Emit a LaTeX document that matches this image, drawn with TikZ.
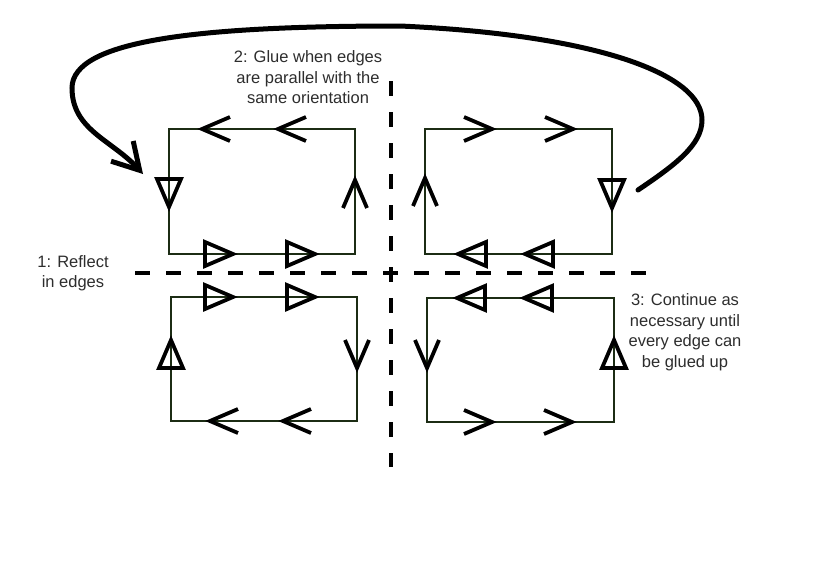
\documentclass[tikz,border=0pt]{standalone}
\usepackage{fontspec}
\setmainfont{Liberation Sans}
\usetikzlibrary{arrows.meta}
\definecolor{edgegreen}{RGB}{28,44,20}
\definecolor{txtgray}{RGB}{45,45,45}
\tikzset{
  sq/.style={draw=edgegreen, line width=2.8pt, line join=miter},
  markline/.style={draw=black, line width=3.8pt, line join=miter},
  sepline/.style={draw=black, line width=3.8pt, dash pattern=on 15pt off 16pt},
  bigarrow/.style={draw=black, line width=5pt, line cap=round,
    -{Straight Barb[length=26pt,width=30pt,line width=5pt]}},
  note/.style={text=txtgray, align=center, inner sep=0pt,
    font=\fontsize{16.5}{20.5}\selectfont},
  chev/.pic={\draw[markline] (-28,12) -- (0,0) -- (-28,-12);},
  tri/.pic={\draw[markline] (-28,12) -- (0,0) -- (-28,-12) -- cycle;}
}
\begin{document}
\begin{tikzpicture}[x=1pt,y=-1pt]
\useasboundingbox (0,0) rectangle (830,581);

% separators
\coordinate (hl) at (135,273);
\coordinate (hr) at (647,273);
\coordinate (vt) at (391,81);
\coordinate (vb) at (391,467);
\draw[sepline] (hl) -- (hr);
\draw[sepline] (vt) -- (vb);

% squares
\path[sq] (169,129) rectangle (355,254);
\path[sq] (425,129) rectangle (612,254);
\path[sq] (171,297) rectangle (357,421);
\path[sq] (427,298) rectangle (614,422);

% top-left square markers
\pic[rotate=180] at (202,129) {chev};
\pic[rotate=180] at (278,129) {chev};
\pic[rotate=-90] at (169,207) {tri};
\pic at (233,254) {tri};
\pic at (315,254) {tri};
\pic[rotate=90] at (355,180) {chev};

% top-right square markers
\pic at (492,129) {chev};
\pic at (573,129) {chev};
\pic[rotate=-90] at (612,208) {tri};
\pic[rotate=180] at (458,254) {tri};
\pic[rotate=180] at (525,254) {tri};
\pic[rotate=90] at (425,178) {chev};

% bottom-left square markers
\pic at (233,297) {tri};
\pic at (315,297) {tri};
\pic[rotate=-90] at (357,368) {chev};
\pic[rotate=180] at (210,421) {chev};
\pic[rotate=180] at (283,421) {chev};
\pic[rotate=90] at (171,340) {tri};

% bottom-right square markers
\pic[rotate=180] at (457,298) {tri};
\pic[rotate=180] at (524,298) {tri};
\pic[rotate=-90] at (427,368) {chev};
\pic[rotate=90] at (614,340) {tri};
\pic at (492,422) {chev};
\pic at (572,422) {chev};

% big arrow
\coordinate (cs) at (638,190);
\coordinate (ce) at (143,174);
\draw[bigarrow] (cs) .. controls (675,165) and (702,145) .. (702,120)
  .. controls (702,75) and (600,35) .. (400,26)
  .. controls (200,26) and (72,40) .. (72,88)
  .. controls (72,130) and (112,140) .. (ce);

% notes
\node[note] (n1) at (73,273) {1: Reflect\\in edges};
\node[note] (n2) at (308,77.5) {2: Glue when edges\\are parallel with the\\same orientation};
\node[note] (n3) at (685,332) {3: Continue as\\necessary until\\every edge can\\be glued up};
\end{tikzpicture}
\end{document}
